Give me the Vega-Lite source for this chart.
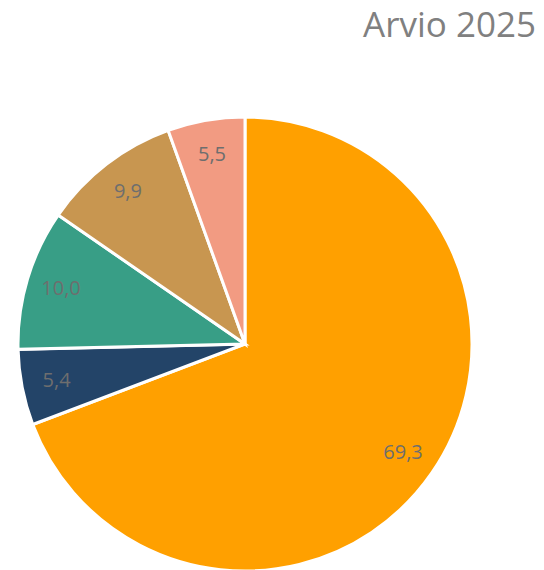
{
  "$schema": "https://vega.github.io/schema/vega-lite/v6.json",
  "autosize": {"type": "pad"},
  "padding": {"left": -46, "top": 9, "right": 0, "bottom": 0},
  "width": 582,
  "height": 580,
  "background": "white",
  "title": {
    "text": "Arvio 2025",
    "anchor": "end",
    "frame": "group",
    "orient": "top",
    "font": "Open Sans",
    "fontSize": 35,
    "fontWeight": "normal",
    "color": "#808080",
    "offset": -18,
    "baseline": "alphabetic"
  },
  "data": {
    "values": [
      {"category": "A", "value": 69.3, "label": "69,3", "ord": 1},
      {"category": "B", "value": 5.4, "label": "5,4", "ord": 2},
      {"category": "C", "value": 10.0, "label": "10,0", "ord": 3},
      {"category": "D", "value": 9.9, "label": "9,9", "ord": 4},
      {"category": "E", "value": 5.5, "label": "5,5", "ord": 5}
    ]
  },
  "encoding": {
    "theta": {"field": "value", "type": "quantitative", "stack": true},
    "order": {"field": "ord", "type": "quantitative"},
    "color": {
      "field": "category",
      "type": "nominal",
      "legend": null,
      "scale": {
        "domain": ["A", "B", "C", "D", "E"],
        "range": ["#ffa000", "#234468", "#389e86", "#c89650", "#f29b82"]
      }
    }
  },
  "layer": [
    {
      "mark": {"type": "arc", "outerRadius": 227, "stroke": "white", "strokeWidth": 3}
    },
    {
      "mark": {"type": "text", "radius": 192, "font": "Open Sans", "fontSize": 20, "fill": "#6e6e6e"},
      "encoding": {
        "text": {"field": "label", "type": "nominal"},
        "color": {"value": "#6e6e6e"}
      }
    }
  ]
}
